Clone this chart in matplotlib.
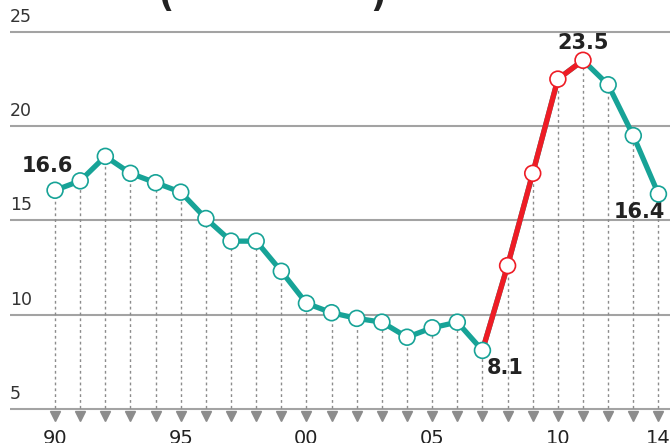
import numpy as np
import matplotlib.pyplot as plt

# data
years = list(range(1990, 2015))
values = [16.6, 17.1, 18.4, 17.5, 17.0, 16.5, 15.1, 13.9, 13.9, 12.3,
          10.6, 10.1, 9.8, 9.6, 8.8, 9.3, 9.6, 8.1, 12.6, 17.5,
          22.5, 23.5, 22.2, 19.5, 16.4]
red_years = [2007, 2008, 2009, 2010, 2011]
y_ticks = [5, 10, 15, 20, 25]
x_label_years = [1990, 1995, 2000, 2005, 2010, 2014]
x_labels = ['90', '95', '00', '05', '10', '14']

teal = '#17a397'
red = '#ee1c25'
grey = '#a3a3a3'

fig = plt.figure(figsize=(6.7, 4.43), dpi=100)
ax = fig.add_axes([0, 0, 1, 1])
ax.set_xlim(1987.81, 2014.46)
ax.set_ylim(3.185, 26.70)
ax.axis('off')

# gridlines and y labels
for t in y_ticks:
    ax.hlines(t, 1988.2, 2016, color=grey, lw=1.5, zorder=1)
    ax.text(1988.2, t + 0.32, str(t), fontsize=12.5, color='#333333',
            ha='left', va='bottom')

# dashed droplines with arrow heads
for yr, v in zip(years, values):
    ax.vlines(yr, 4.75, v, color='#8c8c8c', lw=1, linestyles=(0, (2, 2.2)), zorder=2)
ax.plot(years, [4.6] * len(years), linestyle='none', marker='v',
        markersize=7, color='#8c8c8c', zorder=2)

# x labels
for yr, lab in zip(x_label_years, x_labels):
    ax.text(yr, 3.93, lab, fontsize=14, color='#222222', ha='center', va='top')

# line
vals = dict(zip(years, values))
ax.plot(years, values, color=teal, lw=3.8, zorder=3, solid_capstyle='round')
ax.plot(red_years, [vals[y] for y in red_years], color=red, lw=3.8, zorder=4,
        solid_capstyle='round')

edge = [red if y in red_years[1:] else teal for y in years]
ax.scatter(years, values, s=130, facecolor='white', edgecolor=edge,
           linewidth=1.2, zorder=5)

# callouts
ax.text(1989.68, 17.9, '16.6', fontsize=15, fontweight='bold', color='#222222',
        ha='center', va='center')
ax.text(2011.0, 24.4, '23.5', fontsize=15, fontweight='bold', color='#222222',
        ha='center', va='center')
ax.text(2013.23, 15.45, '16.4', fontsize=15, fontweight='bold', color='#222222',
        ha='center', va='center')
ax.text(2007.9, 7.17, '8.1', fontsize=15, fontweight='bold', color='#222222',
        ha='center', va='center')

# remains of the title cut off at the top edge
fig.text(166 / 670, 1 - 7 / 443, '(', fontsize=24, fontweight='bold',
         color='#222222', ha='center', va='baseline')
fig.text(378 / 670, 1 - 7 / 443, ')', fontsize=24, fontweight='bold',
         color='#222222', ha='center', va='baseline')

fig.savefig('out.png', dpi=100)
plt.close(fig)
